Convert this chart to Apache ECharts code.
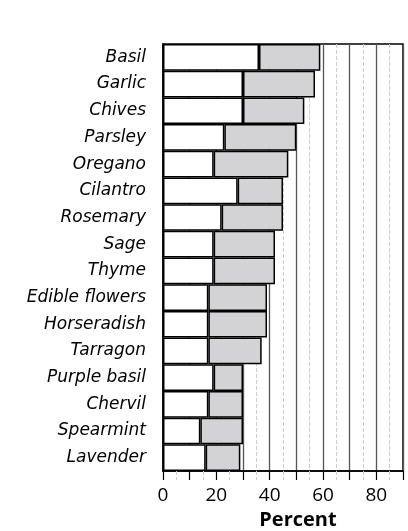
<!DOCTYPE html>
<html>
<head>
<meta charset="utf-8">
<script src="https://cdn.jsdelivr.net/npm/echarts@6/dist/echarts.min.js"></script>
<style>
html,body{margin:0;padding:0;background:#fff;}
#chart{width:408px;height:531px;}
</style>
</head>
<body>
<div id="chart"></div>
<script>
var categories = ['Basil','Garlic','Chives','Parsley','Oregano','Cilantro','Rosemary','Sage','Thyme','Edible flowers','Horseradish','Tarragon','Purple basil','Chervil','Spearmint','Lavender'];
var innerValues = [36, 30, 30, 23, 19, 28, 22, 19, 19, 17, 17, 17, 19, 17, 14, 16];
var totalValues = [59, 57, 53, 50, 47, 45, 45, 42, 42, 39, 39, 37, 30, 30, 30, 29];
var tickLabels = ['0', '20', '40', '60', '80'];

var grayValues = totalValues.map(function (t, i) { return t - innerValues[i]; });

var chart = echarts.init(document.getElementById('chart'), null, {renderer: 'canvas'});
chart.setOption({
  animation: false,
  backgroundColor: '#ffffff',
  grid: {
    left: 163, right: 5, top: 44, bottom: 60,
    containLabel: false, outerBoundsMode: 'none',
    show: true, borderColor: '#000', borderWidth: 1.5, backgroundColor: 'transparent'
  },
  xAxis: {
    type: 'value', min: 0, max: 90, interval: 10,
    name: 'Percent', nameLocation: 'middle', nameGap: 37,
    nameTextStyle: {fontFamily: 'Open Sans', fontWeight: 'bold', fontSize: 20, color: '#000', padding: [0, 0, 0, 30]},
    axisLine: {show: true, lineStyle: {color: '#000', width: 1.5}},
    axisTick: {show: true, length: 9, lineStyle: {color: '#000', width: 1.2}},
    minorTick: {show: true, splitNumber: 2, length: 9, lineStyle: {color: '#ccc', type: 'dashed', width: 1}},
    axisLabel: {
      margin: 15, fontFamily: 'Open Sans', fontSize: 19, color: '#000',
      formatter: function (v) { return tickLabels.indexOf(String(v)) >= 0 ? String(v) : ''; }
    },
    splitLine: {show: true, lineStyle: {color: '#555', width: 1.3}},
    minorSplitLine: {show: true, lineStyle: {color: '#ccc', type: 'dashed', width: 1}}
  },
  yAxis: {
    type: 'category', data: categories, inverse: true,
    axisLine: {show: true, lineStyle: {color: '#000', width: 1.5}},
    axisTick: {show: false},
    axisLabel: {margin: 17, fontFamily: 'DejaVu Sans', fontStyle: 'italic', fontSize: 17, color: '#000', padding: [5, 0, 0, 0]},
    splitLine: {show: false}
  },
  series: [
    {
      type: 'bar', stack: 'a', data: innerValues, barCategoryGap: 0, z: 3,
      itemStyle: {color: '#ffffff', borderColor: '#000', borderWidth: 1.5}
    },
    {
      type: 'bar', stack: 'a', data: grayValues, barCategoryGap: 0, z: 3,
      itemStyle: {color: '#d3d3d5', borderColor: '#000', borderWidth: 1.5}
    }
  ]
});
</script>
</body>
</html>
